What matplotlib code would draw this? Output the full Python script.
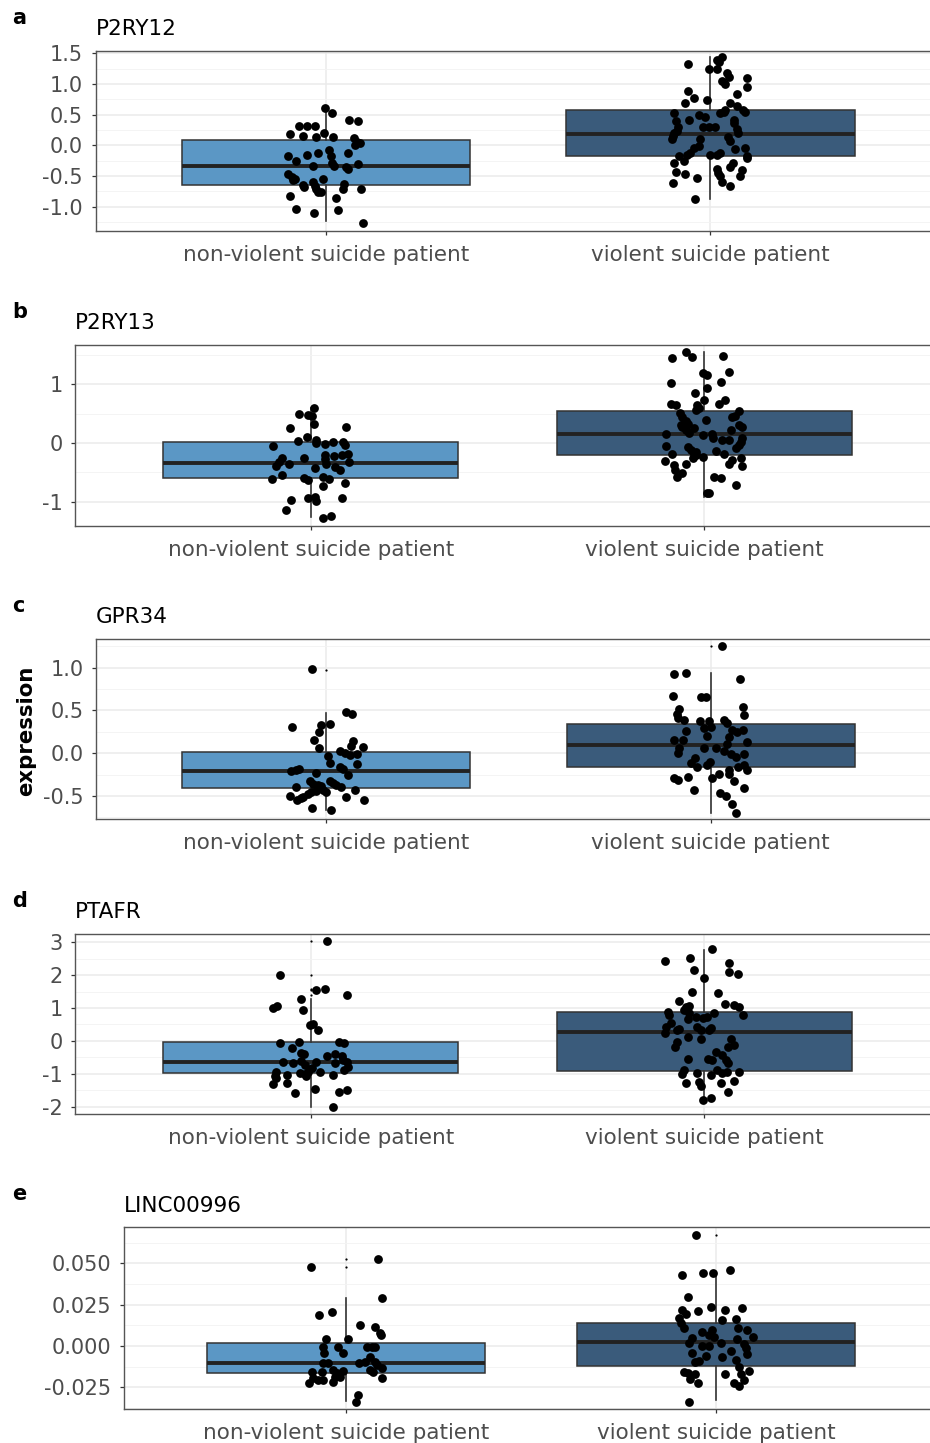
import matplotlib
matplotlib.use("Agg")
import matplotlib.pyplot as plt

plt.rcParams["font.family"] = ["DejaVu Sans"]
plt.rcParams["axes.unicode_minus"] = False

groups = ["non-violent suicide patient", "violent suicide patient"]
group_colors = ["#5B97C5", "#3A5B7B"]
panel_letters = ["a", "b", "c", "d", "e"]
genes = ["P2RY12", "P2RY13", "GPR34", "PTAFR", "LINC00996"]

# ---------------- P2RY12 ----------------
p2ry12_q1 = [-0.65, -0.18]
p2ry12_median = [-0.33, 0.19]
p2ry12_q3 = [0.09, 0.58]
p2ry12_whisker_low = [-1.24, -0.87]
p2ry12_whisker_high = [0.61, 1.44]
p2ry12_outliers = [[], []]
p2ry12_nv = [(-0.004, 0.61), (0.016, 0.53), (0.06, 0.42), (0.084, 0.40), (-0.07, 0.31), (-0.05, 0.31),
             (-0.03, 0.31), (-0.095, 0.18), (-0.06, 0.15), (-0.026, 0.13), (-0.006, 0.20), (0.017, 0.13),
             (0.072, 0.12), (0.08, 0.05), (0.088, 0.03), (0.076, 0.0), (-0.10, -0.17), (-0.078, -0.25),
             (-0.049, -0.16), (-0.02, -0.12), (0.008, -0.07), (0.012, -0.17), (0.016, -0.28), (0.02, -0.33),
             (-0.035, -0.34), (0.056, -0.12), (0.052, -0.36), (0.057, -0.39), (0.082, -0.31), (-0.10, -0.47),
             (-0.09, -0.51), (-0.08, -0.55), (-0.085, -0.57), (-0.06, -0.65), (-0.057, -0.68), (-0.035, -0.60),
             (-0.03, -0.66), (-0.025, -0.71), (-0.02, -0.76), (-0.009, -0.55), (-0.013, -0.76), (0.047, -0.63),
             (0.043, -0.71), (0.091, -0.71), (-0.095, -0.83), (0.026, -0.86), (-0.078, -1.04), (-0.032, -1.10),
             (0.03, -1.06), (0.095, -1.26)]
p2ry12_v = [(0.03, 1.44), (0.017, 1.39), (0.022, 1.36), (-0.004, 1.24), (0.017, 1.24), (-0.059, 1.32),
            (0.043, 1.17), (0.048, 1.11), (0.03, 1.04), (0.039, 1.0), (0.094, 1.09), (0.095, 0.95),
            (-0.059, 0.88), (-0.043, 0.77), (-0.065, 0.69), (-0.009, 0.74), (0.069, 0.84), (0.052, 0.69),
            (0.07, 0.64), (0.085, 0.58), (0.09, 0.55), (-0.095, 0.52), (-0.09, 0.39), (-0.085, 0.30),
            (-0.088, 0.24), (-0.095, 0.20), (-0.097, 0.15), (-0.1, 0.11), (-0.056, 0.42), (-0.03, 0.50),
            (-0.013, 0.46), (-0.02, 0.29), (-0.004, 0.29), (0.013, 0.29), (0.026, 0.52), (0.039, 0.58),
            (0.035, 0.54), (0.062, 0.42), (0.062, 0.37), (0.07, 0.26), (0.072, 0.20), (0.047, 0.13),
            (0.05, 0.07), (-0.026, 0.10), (-0.03, -0.01), (-0.043, -0.04), (-0.052, -0.12), (-0.06, -0.16),
            (-0.082, -0.17), (0.0, -0.15), (0.017, -0.15), (0.026, -0.12), (0.065, -0.06), (0.09, -0.05),
            (0.094, -0.18), (0.095, -0.20), (-0.095, -0.28), (-0.069, -0.25), (-0.09, -0.44), (-0.065, -0.47),
            (-0.035, -0.54), (-0.097, -0.62), (0.017, -0.39), (0.02, -0.45), (0.026, -0.50), (0.052, -0.36),
            (0.06, -0.28), (0.082, -0.41), (0.078, -0.50), (0.03, -0.60), (0.05, -0.66), (-0.039, -0.87)]
p2ry12_ylim = [-1.39, 1.54]
p2ry12_ticks = [-1.0, -0.5, 0.0, 0.5, 1.0, 1.5]
p2ry12_ticklabels = ["-1.0", "-0.5", "0.0", "0.5", "1.0", "1.5"]
p2ry12_minor = [-1.25, -0.75, -0.25, 0.25, 0.75, 1.25]

# ---------------- P2RY13 ----------------
p2ry13_q1 = [-0.60, -0.21]
p2ry13_median = [-0.34, 0.15]
p2ry13_q3 = [0.01, 0.55]
p2ry13_whisker_low = [-1.27, -0.92]
p2ry13_whisker_high = [0.60, 1.55]
p2ry13_outliers = [[], []]
p2ry13_nv = [(0.008, 0.60), (-0.03, 0.50), (-0.007, 0.48), (0.002, 0.46), (0.008, 0.32), (-0.053, 0.26),
             (0.089, 0.28), (-0.009, 0.11), (-0.034, 0.04), (0.013, 0.05), (0.013, 0.0), (0.036, -0.02),
             (0.057, 0.01), (0.082, 0.02), (0.086, -0.04), (-0.097, -0.05), (0.095, -0.18), (0.078, -0.21),
             (0.097, -0.32), (-0.074, -0.26), (-0.08, -0.32), (-0.09, -0.40), (-0.073, -0.55), (-0.10, -0.62),
             (-0.055, -0.35), (-0.018, -0.25), (0.01, -0.42), (0.036, -0.20), (0.036, -0.28), (0.038, -0.36),
             (0.058, -0.23), (0.061, -0.41), (0.074, -0.46), (-0.018, -0.60), (-0.007, -0.63), (0.031, -0.58),
             (0.046, -0.62), (0.086, -0.69), (0.031, -0.73), (-0.007, -0.93), (0.01, -0.92), (0.014, -0.99),
             (-0.051, -0.97), (0.08, -0.94), (-0.063, -1.14), (0.03, -1.28), (0.052, -1.24)]
p2ry13_v = [(-0.045, 1.55), (-0.031, 1.47), (-0.082, 1.45), (0.049, 1.48), (0.063, 1.21), (-0.004, 1.19),
            (0.008, 1.16), (-0.085, 1.03), (0.042, 1.04), (0.008, 0.93), (-0.023, 0.86), (0.053, 0.73),
            (0.038, 0.66), (-0.085, 0.67), (-0.072, 0.65), (0.0, 0.73), (-0.017, 0.65), (-0.02, 0.57),
            (-0.013, 0.59), (-0.061, 0.51), (-0.055, 0.45), (0.089, 0.55), (0.079, 0.46), (0.072, 0.44),
            (-0.046, 0.38), (-0.04, 0.33), (-0.052, 0.32), (-0.06, 0.30), (-0.055, 0.27), (0.006, 0.40),
            (0.089, 0.30), (0.097, 0.28), (-0.046, 0.22), (-0.038, 0.17), (-0.025, 0.25), (-0.097, 0.15),
            (-0.004, 0.13), (0.021, 0.15), (0.023, 0.08), (0.046, 0.05), (0.063, 0.05), (0.068, 0.22),
            (0.096, 0.08), (-0.096, -0.06), (-0.082, -0.19), (-0.042, -0.07), (-0.034, -0.12), (-0.025, -0.19),
            (-0.02, -0.16), (-0.004, -0.24), (0.03, -0.13), (0.051, -0.19), (0.08, -0.09), (0.089, -0.04),
            (0.093, 0.02), (-0.10, -0.31), (-0.076, -0.38), (-0.074, -0.46), (-0.068, -0.58), (-0.055, -0.52),
            (-0.045, -0.36), (-0.028, -0.26), (-0.021, -0.21), (0.063, -0.35), (0.072, -0.29), (0.093, -0.25),
            (0.096, -0.39), (0.025, -0.58), (0.042, -0.59), (0.08, -0.71), (0.008, -0.86), (0.013, -0.85)]
p2ry13_ylim = [-1.41, 1.67]
p2ry13_ticks = [-1, 0, 1]
p2ry13_ticklabels = ["-1", "0", "1"]
p2ry13_minor = [-0.5, 0.5, 1.5]

# ---------------- GPR34 ----------------
gpr34_q1 = [-0.41, -0.16]
gpr34_median = [-0.21, 0.09]
gpr34_q3 = [0.016, 0.34]
gpr34_whisker_low = [-0.66, -0.70]
gpr34_whisker_high = [0.47, 0.94]
gpr34_outliers = [[0.97], [1.25]]
gpr34_nv = [(-0.037, 0.98), (0.052, 0.48), (0.067, 0.46), (-0.091, 0.31), (-0.013, 0.33), (0.009, 0.34),
            (-0.019, 0.25), (-0.032, 0.15), (0.069, 0.14), (0.065, 0.08), (0.095, 0.07), (-0.02, 0.06),
            (0.035, 0.02), (0.048, 0.0), (0.06, -0.02), (0.08, -0.01), (0.004, -0.03), (0.01, -0.12),
            (0.08, -0.13), (0.035, -0.16), (0.043, -0.18), (-0.093, -0.21), (-0.078, -0.20), (-0.071, -0.19),
            (-0.026, -0.23), (0.056, -0.26), (-0.043, -0.33), (-0.034, -0.36), (-0.021, -0.37), (-0.013, -0.38),
            (0.009, -0.33), (0.017, -0.35), (0.024, -0.37), (0.037, -0.39), (0.074, -0.43), (-0.078, -0.40),
            (-0.039, -0.45), (-0.026, -0.44), (-0.009, -0.43), (0.0, -0.45), (-0.061, -0.51), (-0.048, -0.48),
            (-0.095, -0.50), (-0.076, -0.55), (-0.065, -0.53), (0.052, -0.51), (0.098, -0.55), (-0.037, -0.64),
            (0.013, -0.67)]
gpr34_v = [(0.03, 1.25), (-0.094, 0.92), (-0.065, 0.94), (0.076, 0.87), (-0.097, 0.67), (-0.024, 0.65),
           (-0.013, 0.66), (0.085, 0.54), (-0.082, 0.52), (-0.088, 0.46), (-0.086, 0.41), (-0.069, 0.39),
           (0.086, 0.44), (-0.028, 0.38), (-0.004, 0.37), (-0.017, 0.29), (0.0, 0.31), (0.035, 0.39),
           (0.042, 0.35), (-0.065, 0.26), (-0.009, 0.20), (0.057, 0.27), (0.069, 0.25), (0.085, 0.27),
           (0.048, 0.19), (-0.095, 0.15), (-0.073, 0.15), (0.094, 0.13), (0.043, 0.11), (-0.017, 0.06),
           (0.013, 0.06), (-0.082, 0.06), (-0.086, 0.0), (0.035, 0.02), (0.052, -0.01), (0.065, -0.04),
           (0.087, -0.01), (-0.041, -0.06), (-0.05, -0.12), (-0.034, -0.16), (-0.009, -0.14), (-0.002, -0.10),
           (0.071, -0.16), (0.087, -0.14), (0.095, -0.20), (0.048, -0.20), (-0.094, -0.29), (-0.086, -0.31),
           (-0.059, -0.28), (0.004, -0.29), (0.022, -0.24), (0.048, -0.24), (0.061, -0.33), (0.087, -0.41),
           (-0.043, -0.43), (0.024, -0.46), (0.039, -0.50), (0.057, -0.59), (0.065, -0.70)]
gpr34_ylim = [-0.773, 1.333]
gpr34_ticks = [-0.5, 0.0, 0.5, 1.0]
gpr34_ticklabels = ["-0.5", "0.0", "0.5", "1.0"]
gpr34_minor = [-0.75, -0.25, 0.25, 0.75, 1.25]

# ---------------- PTAFR ----------------
ptafr_q1 = [-0.98, -0.91]
ptafr_median = [-0.63, 0.26]
ptafr_q3 = [-0.02, 0.89]
ptafr_whisker_low = [-2.0, -1.81]
ptafr_whisker_high = [1.27, 2.77]
ptafr_outliers = [[3.04, 2.0, 1.57, 1.55, 1.40], []]
ptafr_nv = [(0.041, 3.04), (-0.079, 2.0), (0.014, 1.55), (0.036, 1.57), (0.091, 1.40), (-0.024, 1.27),
            (-0.097, 1.01), (-0.087, 1.07), (-0.02, 0.94), (-0.003, 0.47), (0.006, 0.51), (0.019, 0.33),
            (-0.079, -0.07), (-0.03, -0.02), (-0.049, -0.22), (0.072, -0.02), (0.084, -0.07), (-0.024, -0.37),
            (-0.018, -0.40), (0.04, -0.46), (0.061, -0.40), (0.078, -0.45), (0.082, -0.58), (-0.072, -0.63),
            (-0.045, -0.68), (-0.024, -0.61), (-0.015, -0.73), (0.014, -0.63), (0.061, -0.68), (0.091, -0.63),
            (0.095, -0.78), (-0.089, -0.95), (-0.091, -1.08), (-0.028, -0.98), (-0.015, -1.01), (-0.007, -0.95),
            (0.002, -0.83), (0.023, -0.93), (-0.062, -1.05), (-0.013, -1.08), (0.055, -1.05), (0.084, -0.88),
            (-0.089, -1.12), (-0.096, -1.32), (-0.06, -1.29), (0.01, -1.46), (0.072, -1.54), (0.091, -1.49),
            (-0.041, -1.59), (0.057, -2.0)]
ptafr_v = [(0.021, 2.79), (-0.036, 2.51), (-0.099, 2.43), (-0.025, 2.16), (0.063, 2.36), (0.063, 2.09),
           (0.087, 2.03), (0.0, 1.91), (-0.031, 1.48), (0.036, 1.45), (-0.065, 1.22), (0.053, 1.12),
           (0.076, 1.09), (0.089, 1.04), (0.099, 0.79), (-0.046, 1.02), (-0.038, 1.06), (-0.051, 0.94),
           (-0.038, 0.84), (-0.042, 0.66), (-0.091, 0.89), (-0.089, 0.79), (-0.085, 0.54), (-0.097, 0.43),
           (-0.10, 0.23), (-0.07, 0.33), (-0.063, 0.36), (-0.021, 0.72), (-0.004, 0.69), (0.008, 0.72),
           (0.025, 0.84), (-0.017, 0.43), (-0.008, 0.33), (0.013, 0.33), (0.017, 0.39), (-0.04, 0.11),
           (-0.008, 0.05), (-0.068, -0.02), (-0.074, -0.17), (0.068, 0.05), (0.076, -0.12), (0.062, -0.17),
           (0.03, -0.33), (0.045, -0.43), (0.055, -0.58), (0.062, -0.66), (-0.042, -0.56), (0.011, -0.56),
           (0.021, -0.58), (-0.051, -0.88), (-0.055, -1.0), (-0.017, -0.98), (0.017, -1.03), (0.034, -0.88),
           (0.045, -0.96), (0.059, -0.93), (0.089, -0.93), (-0.046, -1.27), (-0.013, -1.24), (-0.008, -1.37),
           (0.042, -1.29), (0.076, -1.21), (0.062, -1.56), (-0.004, -1.81), (0.017, -1.74)]
ptafr_ylim = [-2.23, 3.25]
ptafr_ticks = [-2, -1, 0, 1, 2, 3]
ptafr_ticklabels = ["-2", "-1", "0", "1", "2", "3"]
ptafr_minor = [-1.5, -0.5, 0.5, 1.5, 2.5]

# ---------------- LINC00996 ----------------
linc_q1 = [-0.0165, -0.0119]
linc_median = [-0.0101, 0.0026]
linc_q3 = [0.0016, 0.0137]
linc_whisker_low = [-0.0331, -0.0327]
linc_whisker_high = [0.0289, 0.045]
linc_outliers = [[0.0525, 0.048], [0.0672]]
linc_nv = [(-0.095, 0.048), (0.087, 0.0525), (0.096, 0.0289), (-0.072, 0.0188), (-0.037, 0.0208),
           (0.038, 0.0127), (0.078, 0.0117), (0.092, 0.0077), (0.094, 0.0067), (-0.054, 0.0041),
           (0.005, 0.0041), (-0.061, -0.0004), (-0.059, -0.0044), (-0.022, -0.0004), (-0.007, -0.0044),
           (0.056, -0.0004), (0.07, -0.0004), (0.078, -0.0004), (0.065, -0.0065), (0.036, -0.0101),
           (0.051, -0.0095), (-0.063, -0.0105), (-0.048, -0.0105), (0.078, -0.0095), (0.083, -0.0115),
           (0.065, -0.0145), (0.074, -0.0155), (0.096, -0.0135), (-0.092, -0.016), (-0.065, -0.016),
           (-0.034, -0.0145), (-0.025, -0.0165), (-0.007, -0.015), (-0.088, -0.0195), (-0.075, -0.0206),
           (-0.061, -0.0206), (-0.016, -0.0186), (-0.03, -0.0186), (-0.099, -0.0226), (-0.036, -0.0216),
           (0.096, -0.0192), (0.032, -0.0296), (0.027, -0.0337)]
linc_v = [(-0.053, 0.0672), (-0.092, 0.043), (-0.035, 0.0442), (-0.008, 0.0443), (0.037, 0.046),
          (-0.077, 0.0295), (-0.092, 0.0218), (-0.08, 0.0194), (-0.05, 0.0214), (-0.014, 0.0234),
          (0.024, 0.0218), (0.071, 0.0228), (-0.10, 0.0168), (-0.095, 0.0137), (-0.086, 0.0107),
          (0.015, 0.0157), (0.055, 0.0161), (0.06, 0.0107), (0.084, 0.0097), (0.10, 0.0056),
          (-0.037, 0.0087), (-0.01, 0.0097), (-0.005, 0.0056), (-0.019, 0.0067), (-0.064, 0.0047),
          (-0.073, 0.002), (0.013, 0.002), (-0.037, 0.0), (-0.019, 0.0), (0.057, 0.004), (0.08, -0.0014),
          (-0.064, -0.004), (-0.028, -0.0059), (0.017, -0.0065), (0.04, -0.003), (0.075, 0.001),
          (0.085, -0.005), (-0.057, -0.0095), (-0.046, -0.0089), (0.055, -0.0085), (0.062, -0.0125),
          (-0.086, -0.0155), (-0.075, -0.0161), (-0.057, -0.0169), (-0.071, -0.0201), (-0.048, -0.0222),
          (0.024, -0.0171), (0.067, -0.0169), (0.089, -0.0151), (0.075, -0.0206), (0.062, -0.0242),
          (0.049, -0.0226), (-0.073, -0.0337)]
linc_ylim = [-0.0383, 0.0718]
linc_ticks = [-0.025, 0.0, 0.025, 0.05]
linc_ticklabels = ["-0.025", "0.000", "0.025", "0.050"]
linc_minor = [-0.0375, -0.0125, 0.0125, 0.0375, 0.0625]

panels = [
    (p2ry12_q1, p2ry12_median, p2ry12_q3, p2ry12_whisker_low, p2ry12_whisker_high, p2ry12_outliers,
     p2ry12_nv, p2ry12_v, p2ry12_ylim, p2ry12_ticks, p2ry12_ticklabels, p2ry12_minor),
    (p2ry13_q1, p2ry13_median, p2ry13_q3, p2ry13_whisker_low, p2ry13_whisker_high, p2ry13_outliers,
     p2ry13_nv, p2ry13_v, p2ry13_ylim, p2ry13_ticks, p2ry13_ticklabels, p2ry13_minor),
    (gpr34_q1, gpr34_median, gpr34_q3, gpr34_whisker_low, gpr34_whisker_high, gpr34_outliers,
     gpr34_nv, gpr34_v, gpr34_ylim, gpr34_ticks, gpr34_ticklabels, gpr34_minor),
    (ptafr_q1, ptafr_median, ptafr_q3, ptafr_whisker_low, ptafr_whisker_high, ptafr_outliers,
     ptafr_nv, ptafr_v, ptafr_ylim, ptafr_ticks, ptafr_ticklabels, ptafr_minor),
    (linc_q1, linc_median, linc_q3, linc_whisker_low, linc_whisker_high, linc_outliers,
     linc_nv, linc_v, linc_ylim, linc_ticks, linc_ticklabels, linc_minor),
]

# panel rectangles in pixels: left, right, top, bottom
W, H = 930, 1443
rects_px = [(95.5, 941, 50.7, 230.7),
            (75, 940, 345, 525.7),
            (96, 941, 639, 819.3),
            (75, 940, 934, 1114.3),
            (124, 938, 1227.3, 1409.3)]

fig = plt.figure(figsize=(W / 100, H / 100), dpi=100)

for i, (q1, med, q3, wlo, whi, fl, pts_nv, pts_v, ylim, ticks, ticklabels, minor) in enumerate(panels):
    l, r, t, b = rects_px[i]
    ax = fig.add_axes([l / W, 1 - b / H, (r - l) / W, (b - t) / H])

    stats = [dict(q1=q1[k], med=med[k], q3=q3[k], whislo=wlo[k], whishi=whi[k], fliers=fl[k])
             for k in range(2)]
    bp = ax.bxp(stats, positions=[1, 2], widths=0.75, patch_artist=True, showcaps=False,
                boxprops=dict(edgecolor="#333333", linewidth=1.1),
                medianprops=dict(color="#222222", linewidth=2.8),
                whiskerprops=dict(color="#333333", linewidth=1.2),
                flierprops=dict(marker="o", markersize=1.6, markerfacecolor="black",
                                markeredgecolor="none"),
                zorder=2)
    for patch, c in zip(bp["boxes"], group_colors):
        patch.set_facecolor(c)

    for k, pts in enumerate([pts_nv, pts_v]):
        xs = [k + 1 + p[0] for p in pts]
        ys = [p[1] for p in pts]
        ax.scatter(xs, ys, s=40, color="black", linewidths=0, zorder=3)

    ax.set_xlim(0.4, 2.6)
    ax.set_ylim(*ylim)
    ax.set_xticks([1, 2])
    ax.set_xticklabels(groups)
    ax.set_yticks(ticks)
    ax.set_yticklabels(ticklabels)
    ax.set_yticks(minor, minor=True)

    ax.set_axisbelow(True)
    ax.yaxis.grid(True, which="major", color="#EBEBEB", linewidth=1.1)
    ax.yaxis.grid(True, which="minor", color="#F3F3F3", linewidth=0.6)
    ax.xaxis.grid(True, which="major", color="#EBEBEB", linewidth=1.1)

    ax.tick_params(axis="both", which="major", length=3, width=0.9, color="#333333",
                   labelcolor="#4D4D4D", labelsize=15)
    ax.tick_params(axis="x", pad=7, labelsize=15.5)
    ax.tick_params(axis="y", pad=6)
    ax.tick_params(which="minor", length=0)
    for s in ax.spines.values():
        s.set_color("#555555")
        s.set_linewidth(1.0)

    ax.set_title(genes[i], loc="left", pad=11.3, fontsize=15.5, color="black")
    fig.text(12 / W, 1 - (t - 27) / H, panel_letters[i], fontsize=15, fontweight="bold",
             ha="left", va="baseline")

fig.text(26 / W, 1 - 731 / H, "expression", rotation=90, fontsize=15.3, fontweight="bold",
         ha="center", va="center")

fig.savefig("out.png", dpi=100)
